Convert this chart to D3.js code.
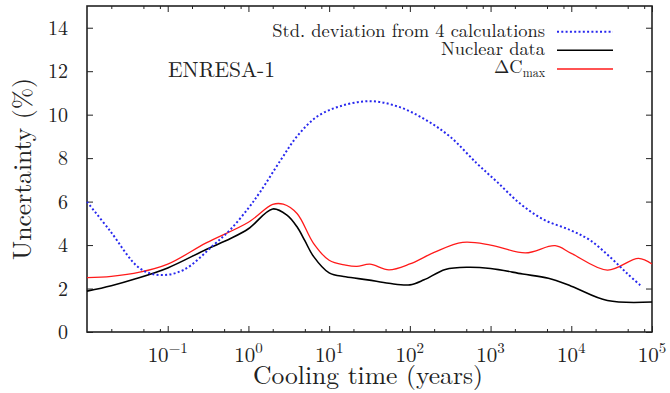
<!DOCTYPE html>
<html>
<head>
<meta charset="utf-8">
<script src="https://cdn.jsdelivr.net/npm/d3@7"></script>
<style>
  html, body { margin: 0; padding: 0; background: #fff; }
  svg { display: block; }
</style>
</head>
<body>
<svg id="chart" width="670" height="393"></svg>
<script>
// ---- Data ----
const stdTime  = [0.01, 0.019, 0.045, 0.08, 0.156, 0.37, 0.6, 1, 1.4, 2.5, 4, 7, 13.7, 32, 69, 148, 316, 675, 1200, 2300, 4500, 9700, 17000, 30000, 49000, 75000];
const stdValue = [5.99, 4.69, 2.93, 2.62, 2.85, 4.0, 4.72, 5.7, 6.45, 7.9, 9.0, 9.9, 10.39, 10.62, 10.39, 9.82, 8.98, 7.76, 6.91, 5.92, 5.18, 4.69, 4.23, 3.46, 2.7, 2.08];

const nucTime  = [0.01, 0.02, 0.04, 0.1, 0.3, 0.6, 1, 2, 3, 4, 5, 6.4, 10, 16, 30, 55, 100, 150, 275, 530, 1000, 2500, 5200, 10000, 28000, 100000];
const nucValue = [1.88, 2.13, 2.45, 2.95, 3.8, 4.3, 4.75, 5.66, 5.38, 4.84, 4.2, 3.48, 2.72, 2.54, 2.4, 2.24, 2.17, 2.4, 2.88, 2.98, 2.92, 2.67, 2.47, 2.11, 1.45, 1.38];

const dcTime  = [0.01, 0.02, 0.045, 0.1, 0.3, 1, 2, 2.7, 4, 6.4, 10, 16, 22, 32, 55, 100, 200, 450, 1000, 2700, 6300, 10000, 28000, 68000, 100000];
const dcValue = [2.5, 2.56, 2.75, 3.12, 4.1, 5.05, 5.87, 5.88, 5.45, 4.08, 3.3, 3.08, 3.02, 3.12, 2.86, 3.13, 3.66, 4.12, 4.0, 3.64, 3.97, 3.62, 2.85, 3.39, 3.13];

const xMajorExp = [-1, 0, 1, 2, 3, 4, 5];
const xMinorMult = [2, 5, 8];
const yTicks = [0, 2, 4, 6, 8, 10, 12, 14];

const legendLabels = ["Std. deviation from 4 calculations", "Nuclear data", "ΔC"];
const annotation = "ENRESA-1";
const xTitle = "Cooling time (years)";
const yTitle = "Uncertainty (%)";

// ---- Layout ----
const FONT = '"Latin Modern Roman", "Liberation Serif", serif';
const svg = d3.select("#chart");
const L = 87, R = 652, T = 6, B = 332;
const x = d3.scaleLog().domain([0.01, 1e5]).range([L, R]);
const y = d3.scaleLinear().domain([0, 15]).range([B, T]);

function txt(parent) {
  return parent.append("text").style("font-family", FONT).style("fill", "#222");
}
function fit(sel, target) {
  const fs = parseFloat(sel.style("font-size"));
  const w = sel.node().getComputedTextLength();
  if (w > 0) sel.style("font-size", (fs * target / w).toFixed(2) + "px");
}

const xMinor = [];
for (let e = -2; e < 5; e++) xMinorMult.forEach(m => xMinor.push(m * Math.pow(10, e)));
const xMajor = xMajorExp.map(e => Math.pow(10, e));

const axisStyle = g => {
  g.select(".domain").remove();
  g.selectAll(".tick line").attr("stroke", "#222").attr("stroke-width", 1);
  g.selectAll(".tick text").remove();
};

// ticks (inward), mirrored on all sides
svg.append("g").attr("transform", `translate(0,${B})`)
  .call(d3.axisBottom(x).tickValues(xMajor).tickSize(-6)).call(axisStyle);
svg.append("g").attr("transform", `translate(0,${B})`)
  .call(d3.axisBottom(x).tickValues(xMinor).tickSize(-3)).call(axisStyle);
svg.append("g").attr("transform", `translate(0,${T})`)
  .call(d3.axisTop(x).tickValues(xMajor).tickSize(-6)).call(axisStyle);
svg.append("g").attr("transform", `translate(0,${T})`)
  .call(d3.axisTop(x).tickValues(xMinor).tickSize(-3)).call(axisStyle);
svg.append("g").attr("transform", `translate(${L},0)`)
  .call(d3.axisLeft(y).tickValues(yTicks).tickSize(-6)).call(axisStyle);
svg.append("g").attr("transform", `translate(${R},0)`)
  .call(d3.axisRight(y).tickValues(yTicks).tickSize(-6)).call(axisStyle);

// frame
svg.append("rect").attr("x", L).attr("y", T).attr("width", R - L).attr("height", B - T)
  .attr("fill", "none").attr("stroke", "#222").attr("stroke-width", 1.6);

// y tick labels
const yl = svg.append("g");
yTicks.forEach(d => {
  txt(yl).attr("x", 68).attr("y", y(d) + 7)
    .attr("text-anchor", "end").style("font-size", "20px").text(d);
});

// x tick labels 10^n
const xg = svg.append("g");
xMajorExp.forEach(d => {
  const t = txt(xg).attr("x", x(Math.pow(10, d))).attr("y", 362)
    .attr("text-anchor", "middle").style("font-size", "21px");
  t.append("tspan").text("10");
  t.append("tspan").attr("dy", -9).style("font-size", "15px")
    .text(d < 0 ? "−" + (-d) : String(d));
});

// axis titles
const xt = txt(svg).attr("x", 368).attr("y", 384)
  .attr("text-anchor", "middle").style("font-size", "22px").text(xTitle);
fit(xt, 230);
const yt = txt(svg).attr("transform", `translate(31,169) rotate(-90)`)
  .attr("text-anchor", "middle").style("font-size", "22px").text(yTitle);
fit(yt, 182);

// annotation
const an = txt(svg).attr("x", 168).attr("y", 76.5)
  .style("font-size", "20px").text(annotation);
fit(an, 107);

// curves
const mk = (xs, ys) => xs.map((t, i) => [t, ys[i]]);
const line = d3.line().x(d => x(d[0])).y(d => y(d[1])).curve(d3.curveCatmullRom.alpha(0.5));

svg.append("path").datum(mk(dcTime, dcValue)).attr("d", line)
  .attr("fill", "none").attr("stroke", "#ff1a1a").attr("stroke-width", 1.3);
svg.append("path").datum(mk(nucTime, nucValue)).attr("d", line)
  .attr("fill", "none").attr("stroke", "#000").attr("stroke-width", 1.6);
svg.append("path").datum(mk(stdTime, stdValue)).attr("d", line)
  .attr("fill", "none").attr("stroke", "#2828ee").attr("stroke-width", 2)
  .attr("stroke-dasharray", "2,2.3");

// legend
const legRows = [31.7, 50.3, 69];
const legStyles = [
  { stroke: "#2828ee", w: 2, dash: "2,2.3" },
  { stroke: "#000", w: 1.6, dash: null },
  { stroke: "#ff1a1a", w: 1.3, dash: null }
];
const lg = svg.append("g");
const t0 = txt(lg).attr("x", 545).attr("y", legRows[0] + 5)
  .attr("text-anchor", "end").style("font-size", "17px").text(legendLabels[0]);
fit(t0, 273);
const legFs = t0.style("font-size");
txt(lg).attr("x", 545).attr("y", legRows[1] + 5)
  .attr("text-anchor", "end").style("font-size", legFs).text(legendLabels[1]);
const t2 = txt(lg).attr("x", 545).attr("y", legRows[2] + 4)
  .attr("text-anchor", "end").style("font-size", legFs);
t2.append("tspan").text(legendLabels[2]);
t2.append("tspan").attr("dy", 4).style("font-size", "12px").text("max");
legStyles.forEach((s, i) => {
  lg.append("line").attr("x1", 557).attr("x2", 613)
    .attr("y1", legRows[i]).attr("y2", legRows[i])
    .attr("stroke", s.stroke).attr("stroke-width", s.w)
    .attr("stroke-dasharray", s.dash);
});
</script>
</body>
</html>
